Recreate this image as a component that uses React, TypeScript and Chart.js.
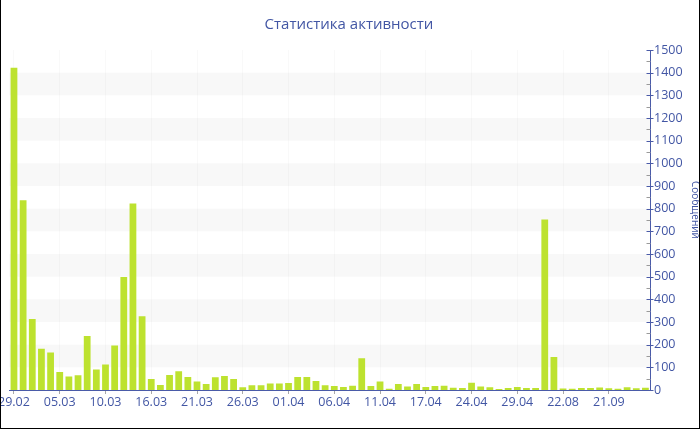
import React, { useEffect, useRef } from "react";
import { Chart, registerables } from "chart.js";

Chart.register(...registerables);

// Daily message counts
const dates: string[] = [
  "29.02", "01.03", "02.03", "03.03", "04.03",
  "05.03", "06.03", "07.03", "08.03", "09.03",
  "10.03", "11.03", "12.03", "13.03", "14.03",
  "16.03", "17.03", "18.03", "19.03", "20.03",
  "21.03", "22.03", "23.03", "24.03", "25.03",
  "26.03", "27.03", "28.03", "29.03", "30.03",
  "01.04", "02.04", "03.04", "04.04", "05.04",
  "06.04", "07.04", "08.04", "09.04", "10.04",
  "11.04", "12.04", "13.04", "14.04", "15.04",
  "17.04", "18.04", "19.04", "20.04", "22.04",
  "24.04", "25.04", "26.04", "27.04", "28.04",
  "29.04", "01.05", "03.05", "16.08", "19.08",
  "22.08", "28.08", "04.09", "10.09", "15.09",
  "21.09", "25.09", "30.09", "05.10", "10.10",
];

const messages: number[] = [
  1422, 837, 313, 182, 165,
  79, 60, 65, 238, 90,
  112, 196, 498, 823, 325,
  48, 22, 66, 83, 57,
  38, 26, 56, 62, 48,
  12, 21, 21, 29, 29,
  31, 57, 57, 40, 21,
  18, 13, 19, 140, 18,
  37, 6, 26, 15, 26,
  13, 18, 19, 10, 9,
  32, 15, 12, 4, 9,
  13, 9, 9, 752, 146,
  7, 5, 9, 9, 11,
  8, 5, 12, 8, 10,
];

// Every fifth date gets a label on the axis
const LABEL_EVERY = 5;

const Y_MAX = 1500;
const Y_STEP = 100;
const Y_MINOR_STEP = 50;

const TITLE = "Статистика активности";
const Y_TITLE = "Сообщений";

const FONT = "'Open Sans', 'Noto Sans', sans-serif";
const BLUE = "#4256a4";
const AXIS_BLUE = "#4a5ba8";
const BAR_GREEN = "#bde22f";
const BAND_GREY = "#f8f8f8";

// Alternating horizontal bands behind the bars
const bandsPlugin = {
  id: "bands",
  beforeDraw(chart: any) {
    const { ctx, chartArea } = chart;
    const y = chart.scales.y;
    ctx.save();
    ctx.fillStyle = BAND_GREY;
    for (let v = Y_STEP; v < Y_MAX; v += 2 * Y_STEP) {
      const top = y.getPixelForValue(v + Y_STEP);
      const bottom = y.getPixelForValue(v);
      ctx.fillRect(chartArea.left, top, chartArea.right - chartArea.left, bottom - top);
    }
    ctx.restore();
  },
};

// Chart title, tick marks on the right axis and the axis title
const decorPlugin = {
  id: "decor",
  afterDraw(chart: any) {
    const { ctx, chartArea } = chart;
    const y = chart.scales.y;
    const x0 = Math.round(chartArea.right) + 0.5;
    ctx.save();

    ctx.fillStyle = BLUE;
    ctx.font = `15px ${FONT}`;
    ctx.textAlign = "center";
    ctx.textBaseline = "middle";
    ctx.fillText(TITLE, 349, 25);

    ctx.lineWidth = 1;
    for (let v = 0; v <= Y_MAX; v += Y_MINOR_STEP) {
      const py = Math.round(y.getPixelForValue(v)) + 0.5;
      const major = v % Y_STEP === 0;
      ctx.strokeStyle = major ? AXIS_BLUE : "#9a9a9a";
      ctx.beginPath();
      ctx.moveTo(x0 - 4, py);
      ctx.lineTo(major ? x0 + 3 : x0, py);
      ctx.stroke();
    }

    ctx.translate(695, 210);
    ctx.rotate(Math.PI / 2);
    ctx.font = `10px ${FONT}`;
    ctx.fillText(Y_TITLE, 0, 0);
    ctx.restore();
  },
};

function ActivityChart() {
  const canvasRef = useRef<HTMLCanvasElement | null>(null);

  useEffect(() => {
    const canvas = canvasRef.current;
    if (!canvas) return;
    const chart = new Chart(canvas, {
      type: "bar",
      data: {
        labels: dates,
        datasets: [
          {
            data: messages,
            backgroundColor: BAR_GREEN,
            borderWidth: 0,
            barPercentage: 0.74,
            categoryPercentage: 1,
          },
        ],
      },
      options: {
        animation: false,
        responsive: false,
        devicePixelRatio: 1,
        layout: { padding: { left: 9.4, right: 0, top: 50, bottom: 0 } },
        plugins: {
          legend: { display: false },
          tooltip: { enabled: false },
          title: { display: false },
        },
        scales: {
          x: {
            offset: true,
            grid: {
              offset: false,
              color: "rgba(0,0,0,0.025)",
              tickColor: "#a8a8a8",
              tickLength: 4,
            },
            border: { color: AXIS_BLUE, width: 1 },
            ticks: {
              autoSkip: false,
              maxRotation: 0,
              padding: 1,
              color: BLUE,
              font: { family: FONT, size: 12.5 },
              callback: (_v: any, i: number) =>
                i % LABEL_EVERY === 0 ? dates[i] : null,
            },
            afterFit: (scale: any) => {
              scale.height = 40;
              scale.paddingLeft = 0;
              scale.paddingRight = 0;
            },
          },
          y: {
            position: "right",
            min: 0,
            max: Y_MAX,
            grid: { display: false, drawTicks: false },
            border: { color: AXIS_BLUE, width: 1 },
            ticks: {
              stepSize: Y_STEP,
              padding: 4,
              color: BLUE,
              font: { family: FONT, size: 12.5 },
              callback: (v: any) => String(v),
            },
            afterFit: (scale: any) => {
              scale.width = 50;
              scale.paddingTop = 0;
            },
          },
        },
      },
      plugins: [bandsPlugin, decorPlugin],
    });
    return () => chart.destroy();
  }, []);

  return (
    <div style={{ position: "absolute", left: 0, top: 0, width: 700, height: 430, background: "#fff" }}>
      <canvas ref={canvasRef} width={700} height={430} style={{ display: "block" }} />
      <div
        style={{
          position: "absolute",
          left: 0,
          top: 0,
          width: 700,
          height: 429,
          boxSizing: "border-box",
          borderLeft: "1px solid #000",
          borderRight: "1px solid #000",
          borderBottom: "1px solid #000",
          pointerEvents: "none",
        }}
      />
    </div>
  );
}

export default function App() {
  return <ActivityChart />;
}
